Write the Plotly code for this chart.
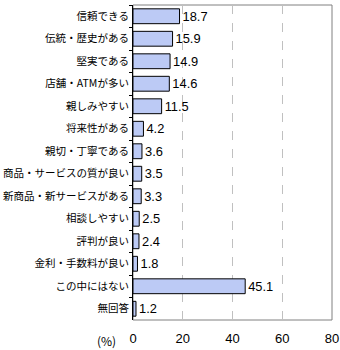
import plotly.graph_objects as go

categories = [
    "信頼できる", "伝統・歴史がある", "堅実である", "店舗・ATMが多い", "親しみやすい",
    "将来性がある", "親切・丁寧である", "商品・サービスの質が良い", "新商品・新サービスがある",
    "相談しやすい", "評判が良い", "金利・手数料が良い", "この中にはない", "無回答",
]
values = [18.7, 15.9, 14.9, 14.6, 11.5, 4.2, 3.6, 3.5, 3.3, 2.5, 2.4, 1.8, 45.1, 1.2]
x_ticks = [0, 20, 40, 60, 80]

font_family = "Noto Sans CJK JP, sans-serif"
num_font = "Liberation Sans, Arial, sans-serif"

fig = go.Figure()
fig.add_trace(go.Bar(
    y=categories,
    x=values,
    orientation="h",
    marker=dict(color="#bccaf5", line=dict(color="#000000", width=1)),
    text=[f"{v:.1f}" for v in values],
    textposition="outside",
    textfont=dict(family=num_font, size=13, color="#000000"),
    cliponaxis=False,
    width=0.66,
))

fig.update_layout(
    width=340, height=350,
    margin=dict(l=133, r=8, t=5, b=30),
    paper_bgcolor="white", plot_bgcolor="white",
    showlegend=False,
    font=dict(family=font_family, size=10.5, color="#000000"),
    xaxis=dict(
        range=[0, 80], tickvals=x_ticks, ticktext=[str(t) for t in x_ticks],
        showgrid=True, gridcolor="#c0c0c0", griddash="dash", gridwidth=1,
        zeroline=False, showline=False, ticks="",
        tickfont=dict(family=num_font, size=13), ticklabelstandoff=9,
        automargin=False, fixedrange=True,
    ),
    yaxis=dict(
        categoryorder="array", categoryarray=categories, autorange="reversed",
        showline=True, linecolor="#000000", linewidth=1,
        ticks="outside", tickson="boundaries", ticklen=3, tickcolor="#000000",
        tickfont=dict(family=font_family, size=10.5), ticklabelstandoff=1,
        showgrid=False, automargin=False, fixedrange=True,
    ),
    shapes=[dict(
        type="rect", xref="paper", yref="paper", x0=0, x1=1, y0=0, y1=1,
        line=dict(color="#808080", width=1), layer="below",
    )],
    annotations=[dict(
        text="(%)", xref="paper", yref="paper", x=-0.075, y=0,
        xanchor="right", yanchor="top", yshift=-10, showarrow=False,
        font=dict(family=font_family, size=12),
    )],
)

fig.write_html("out.html")
